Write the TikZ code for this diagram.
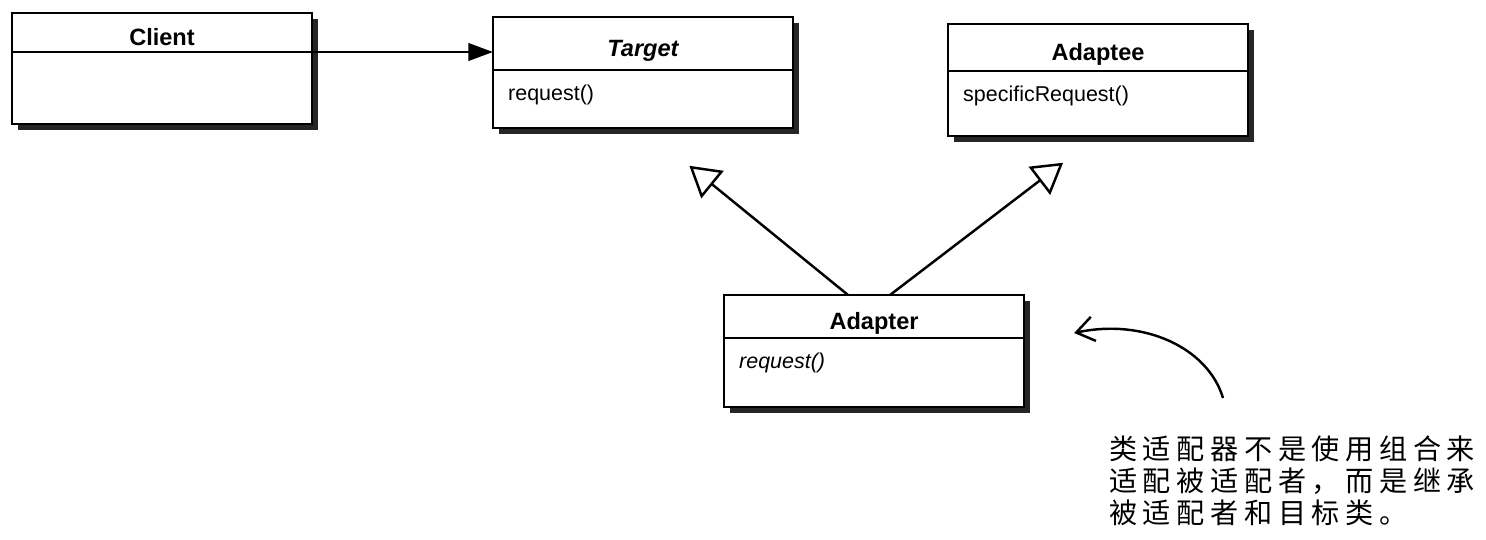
\documentclass[tikz,border=0pt]{standalone}
\usepackage{fontspec}
\setmainfont{Liberation Sans}
\newfontfamily\cjk[LetterSpace=20]{Noto Sans CJK SC}
\usetikzlibrary{positioning, arrows.meta, calc, shadows}

\begin{document}
\begin{tikzpicture}[x=0.01cm, y=-0.01cm, line width=0.7pt,
  cls/.style={draw, line width=0.5pt, fill=white, minimum width=3cm, inner sep=0pt, outer sep=0pt,
    drop shadow={shadow xshift=1.6pt, shadow yshift=-1.6pt, fill=black!85, opacity=1}},
  hd/.style={cls, font=\fontsize{6.7}{7}\selectfont\bfseries, text height=7.5pt, text depth=0pt},
  bd/.style={cls},
  meth/.style={anchor=north west, inner sep=0pt, xshift=4pt, yshift=-4pt, font=\fontsize{6.1}{7}\selectfont},
  assoc/.style={-{Triangle[length=7pt, width=5pt]}},
  inherit/.style={-{Triangle[open, fill=white, length=8.5pt, width=10pt]}},
  note/.style={anchor=north west, align=left, inner sep=0pt, font=\cjk\fontsize{8}{9.1}\selectfont}]
  \useasboundingbox (0,0) rectangle (1486,540);

  % classes
  \node[hd, minimum height=0.39cm] (client) at (162,32.5) {Client};
  \node[bd, minimum height=0.72cm, below=0pt of client] (client-b) {};

  \node[hd, minimum height=0.53cm] (target) at (643,43.5) {\itshape Target};
  \node[bd, minimum height=0.58cm, below=0pt of target,
    label={[meth]north west:request()}] (target-b) {};

  \node[hd, minimum height=0.47cm] (adaptee) at (1098,47.5) {Adaptee};
  \node[bd, minimum height=0.65cm, below=0pt of adaptee,
    label={[meth]north west:specificRequest()}] (adaptee-b) {};

  \node[hd, minimum height=0.43cm] (adapter) at (874,316.5) {Adapter};
  \node[bd, minimum height=0.69cm, below=0pt of adapter,
    label={[meth]north west:\itshape request()}] (adapter-b) {};

  % relations
  \draw[assoc] (client-b.north east) -- (client-b.north east -| target.west);
  \draw[inherit, shorten >=17pt] ([xshift=-0.26cm]adapter.north) -- (target-b.south);
  \draw[inherit, shorten >=12.5pt] ([xshift=0.16cm]adapter.north) -- (adaptee-b.south);

  % note
  \node[note] (note) at (1108,435) {类适配器不是使用组合来\\适配被适配者，而是继承\\被适配者和目标类。};
  \coordinate (tail) at ($(note.north west)+(115,-37)$);
  \coordinate (tip) at ($(adapter-b.north east)+(50,-5)$);
  \draw[-{Straight Barb[length=5pt, width=7pt]}] (tail) .. controls +(-15,-50) and +(70,-15) .. (tip);
\end{tikzpicture}
\end{document}
